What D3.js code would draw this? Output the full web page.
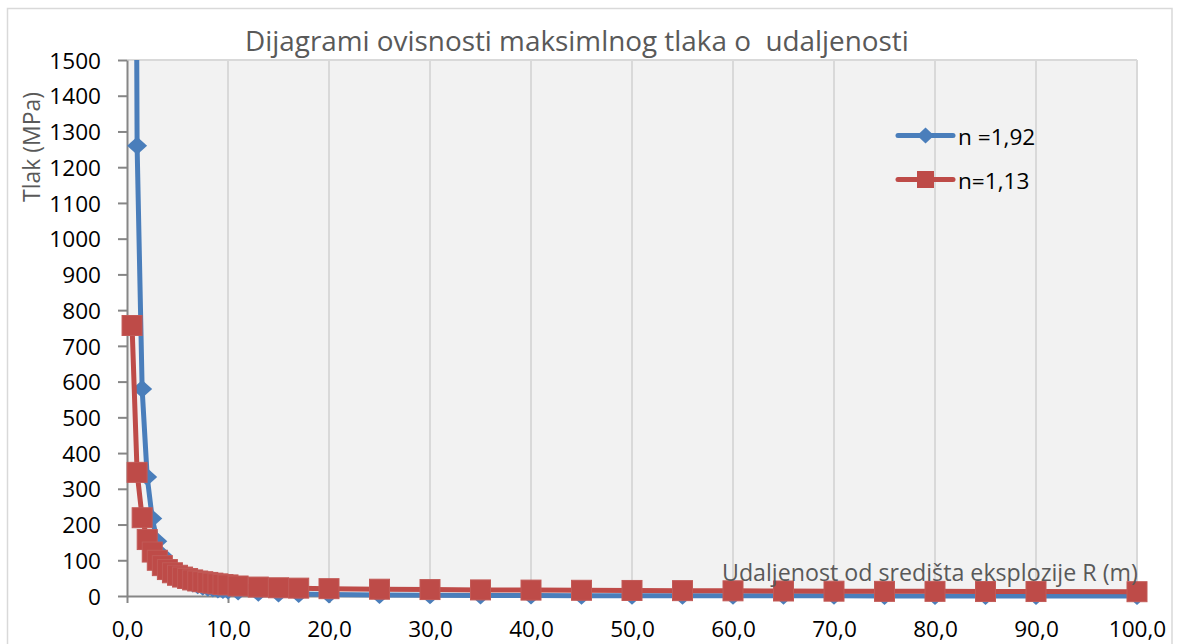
<!DOCTYPE html>
<html>
<head>
<meta charset="utf-8">
<script src="https://cdn.jsdelivr.net/npm/d3@7"></script>
<style>
  html, body { margin: 0; padding: 0; background: #ffffff; }
  svg { display: block; font-family: "Open Sans", "Noto Sans", sans-serif; }
</style>
</head>
<body>
<svg id="chart" width="1179" height="644"></svg>
<script>
// Distance from the explosion centre R (m)
const distances = [
  0.5, 1.0, 1.5, 2.0, 2.5, 3.0, 3.5, 4.0, 4.5, 5.0,
  5.5, 6.0, 6.5, 7.0, 7.5, 8.0, 8.5, 9.0, 9.5, 10.0,
  11, 13, 15, 17, 20, 25, 30, 35, 40, 45,
  50, 55, 60, 65, 70, 75, 80, 85, 90, 100
];

// Peak pressure (MPa), n = 1,92
const pressureN192 = [
  4770, 1260, 579, 333, 217, 153, 114, 88, 70, 57,
  48, 40, 35, 30, 26, 23, 21, 18.5, 16.7, 15.1,
  12.6, 9.2, 7.0, 5.5, 4.0, 2.6, 1.8, 1.4, 1.1, 0.84,
  0.69, 0.57, 0.49, 0.42, 0.36, 0.32, 0.28, 0.25, 0.22, 0.18
];

// Peak pressure (MPa), n = 1,13
const pressureN113 = [
  757, 346, 219, 158, 123, 100, 85, 74, 65, 58,
  53, 49, 45, 42, 40, 38, 36, 34, 32, 31,
  28, 25, 23, 22, 20.5, 19, 18, 17, 16.5, 16,
  15.5, 15, 14.5, 14, 13.5, 13, 13, 12.5, 12.5, 12
];

const seriesNames = ["n =1,92", "n=1,13"];
const xTicks = [0, 10, 20, 30, 40, 50, 60, 70, 80, 90, 100];
const yTicks = [0, 100, 200, 300, 400, 500, 600, 700, 800, 900, 1000, 1100, 1200, 1300, 1400, 1500];

const chartTitle = "Dijagrami ovisnosti maksimlnog tlaka o  udaljenosti";
const xTitle = "Udaljenost od središta eksplozije R (m)";
const yTitle = "Tlak (MPa)";

const svg = d3.select("#chart");

const plot = { left: 127, right: 1137, top: 60, bottom: 596 };

const x = d3.scaleLinear().domain([0, 100]).range([plot.left, plot.right]);
const y = d3.scaleLinear().domain([0, 1500]).range([plot.bottom, plot.top]);

const blue = "#4a7ebb";
const red = "#be4b48";

function fitWidth(sel, width) {
  const base = parseFloat(sel.attr("font-size"));
  const w = sel.node().getComputedTextLength();
  sel.attr("font-size", base * width / w);
}

// chart frame
svg.append("rect")
  .attr("x", 7.5).attr("y", 8.5)
  .attr("width", 1164.5).attr("height", 700)
  .attr("fill", "#ffffff")
  .attr("stroke", "#d9d9d9").attr("stroke-width", 1.5);

// plot background
svg.append("rect")
  .attr("x", plot.left).attr("y", plot.top)
  .attr("width", plot.right - plot.left).attr("height", plot.bottom - plot.top)
  .attr("fill", "#f2f2f2");

svg.append("line")
  .attr("x1", plot.left).attr("x2", plot.right)
  .attr("y1", plot.top).attr("y2", plot.top)
  .attr("stroke", "#d9d9d9").attr("stroke-width", 2);

// vertical gridlines
svg.append("g")
  .selectAll("line")
  .data(xTicks.filter(d => d > 0))
  .join("line")
  .attr("x1", d => x(d)).attr("x2", d => x(d))
  .attr("y1", plot.top).attr("y2", plot.bottom)
  .attr("stroke", "#d9d9d9").attr("stroke-width", 2);

// title
const title = svg.append("text")
  .attr("x", 245).attr("y", 51)
  .attr("font-size", 26)
  .attr("fill", "#595959")
  .style("white-space", "pre")
  .attr("xml:space", "preserve")
  .text(chartTitle);
fitWidth(title, 664);

// axes
const fmtX = d => d.toFixed(1).replace(".", ",");

const xAxis = svg.append("g")
  .attr("transform", `translate(0,${plot.bottom})`)
  .call(d3.axisBottom(x).tickValues(xTicks).tickFormat(fmtX).tickSize(7).tickSizeOuter(0));

const yAxis = svg.append("g")
  .attr("transform", `translate(${plot.left},0)`)
  .call(d3.axisLeft(y).tickValues(yTicks).tickFormat(d => String(d)).tickSize(9).tickSizeOuter(0));

[xAxis, yAxis].forEach(g => {
  g.select(".domain").attr("stroke", "#868686").attr("stroke-width", 2);
  g.selectAll(".tick line").attr("stroke", "#868686").attr("stroke-width", 2);
  g.selectAll(".tick text")
    .attr("fill", "#000000")
    .attr("font-family", "Open Sans, Noto Sans, sans-serif")
    .attr("font-size", 22.6);
});
xAxis.selectAll(".tick text").attr("y", 41).attr("dy", null);
yAxis.selectAll(".tick text").attr("x", -26).attr("dy", "0.36em");

// axis titles
const yt = svg.append("text")
  .attr("transform", "translate(40,147) rotate(-90)")
  .attr("text-anchor", "middle")
  .attr("font-size", 23)
  .attr("fill", "#595959")
  .text(yTitle);
fitWidth(yt, 110);

// series
const clip = svg.append("clipPath").attr("id", "plot-clip")
  .append("rect")
  .attr("x", 0).attr("y", plot.top)
  .attr("width", 1179).attr("height", 644 - plot.top);

const line = d3.line().x(d => x(d[0])).y(d => y(d[1]));

const diamond = "M0,-9L10,0L0,9L-10,0Z";

const seriesData = [
  { name: seriesNames[0], values: distances.map((r, i) => [r, pressureN192[i]]), color: blue, marker: "diamond" },
  { name: seriesNames[1], values: distances.map((r, i) => [r, pressureN113[i]]), color: red, marker: "square" }
];

const seriesLayer = svg.append("g").attr("clip-path", "url(#plot-clip)");

seriesData.forEach(s => {
  const g = seriesLayer.append("g");
  g.append("path")
    .datum(s.values)
    .attr("d", line)
    .attr("fill", "none")
    .attr("stroke", s.color)
    .attr("stroke-width", 5)
    .attr("stroke-linejoin", "round")
    .attr("stroke-linecap", "round");
  if (s.marker === "diamond") {
    g.selectAll("path.m")
      .data(s.values)
      .join("path")
      .attr("class", "m")
      .attr("d", diamond)
      .attr("transform", d => `translate(${x(d[0])},${y(d[1])})`)
      .attr("fill", s.color);
  } else {
    g.selectAll("rect.m")
      .data(s.values)
      .join("rect")
      .attr("class", "m")
      .attr("x", d => x(d[0]) - 10)
      .attr("y", d => y(d[1]) - 10)
      .attr("width", 20).attr("height", 20)
      .attr("fill", s.color)
      .attr("stroke", "#c25a57").attr("stroke-width", 1);
  }
});

// x axis title sits over the plot
const xt = svg.append("text")
  .attr("x", 722).attr("y", 581)
  .attr("font-size", 23)
  .attr("fill", "#595959")
  .text(xTitle);
fitWidth(xt, 416);

// legend
const legend = svg.append("g");
const legendRows = [
  { s: seriesData[0], y: 135.5 },
  { s: seriesData[1], y: 179.5 }
];
legendRows.forEach(r => {
  const g = legend.append("g").attr("transform", `translate(0,${r.y})`);
  g.append("line")
    .attr("x1", 898).attr("x2", 953).attr("y1", 0).attr("y2", 0)
    .attr("stroke", r.s.color).attr("stroke-width", 5).attr("stroke-linecap", "round");
  if (r.s.marker === "diamond") {
    g.append("path").attr("d", "M0,-8L8.5,0L0,8L-8.5,0Z")
      .attr("transform", "translate(925.5,0)").attr("fill", r.s.color);
  } else {
    g.append("rect").attr("x", 917).attr("y", -8.5).attr("width", 17).attr("height", 17)
      .attr("fill", r.s.color);
  }
  g.append("text")
    .attr("x", 958).attr("y", 9)
    .attr("font-size", 22.6)
    .attr("fill", "#000000")
    .text(r.s.name);
});
</script>
</body>
</html>
